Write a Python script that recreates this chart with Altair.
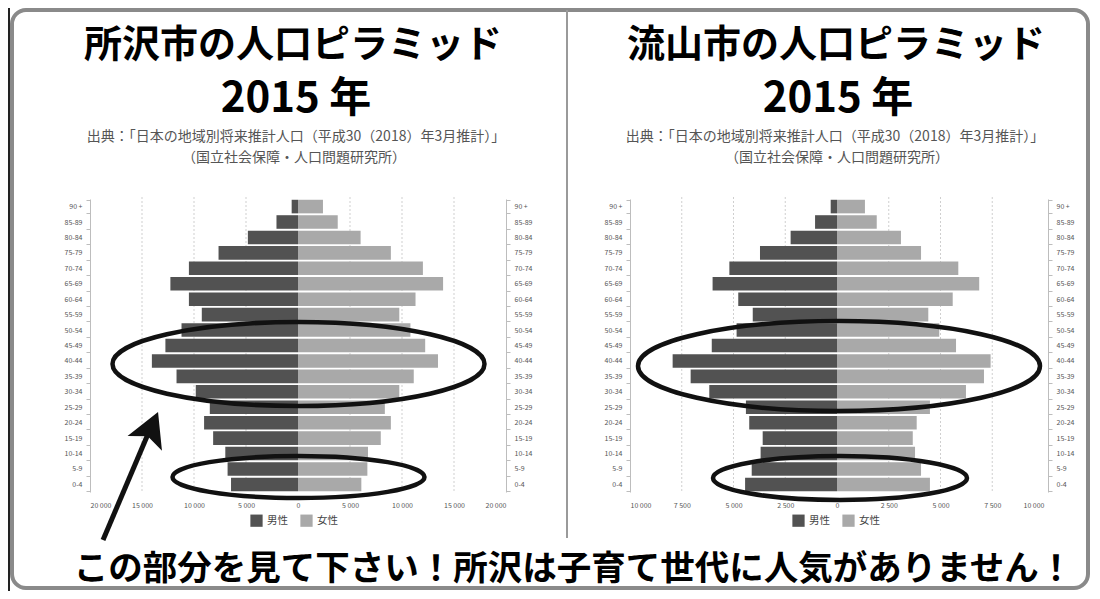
import altair as alt
import pandas as pd

# ---------------- data ----------------
ages = ["0-4", "5-9", "10-14", "15-19", "20-24", "25-29", "30-34", "35-39", "40-44",
        "45-49", "50-54", "55-59", "60-64", "65-69", "70-74", "75-79", "80-84", "85-89", "90 +"]

tokorozawa_male = [6440, 6770, 6990, 8160, 9030, 8480, 9830, 11680, 14050, 12750,
                   11200, 9250, 10490, 12270, 10490, 7640, 4820, 2070, 610]
tokorozawa_female = [6090, 6670, 6730, 7960, 8930, 8350, 9740, 11130, 13460, 12230,
                     10810, 9740, 11300, 13950, 12010, 8930, 6020, 3820, 2400]
nagareyama_male = [4440, 4120, 3690, 3590, 4240, 4400, 6170, 7070, 7940, 6050,
                   4850, 4070, 4770, 6010, 5200, 3720, 2240, 1060, 305]
nagareyama_female = [4490, 4060, 3770, 3660, 3850, 4490, 6230, 7100, 7420, 5750,
                     4940, 4410, 5590, 6870, 5860, 4060, 3090, 1920, 1350]

sexes = ["男性", "女性"]
sex_colors = ["#525252", "#a9a9a9"]

left_ticks = [-20000, -15000, -10000, -5000, 0, 5000, 10000, 15000, 20000]
left_grid = [-15000, -10000, -5000, 5000, 10000, 15000]
right_ticks = [-10000, -7500, -5000, -2500, 0, 2500, 5000, 7500, 10000]
right_grid = [-7500, -5000, -2500, 2500, 5000, 7500]

title_left = "所沢市の人口ピラミッド"
title_right = "流山市の人口ピラミッド"
year_text = "2015 年"
source1 = "出典：「日本の地域別将来推計人口（平成30（2018）年3月推計）」"
source2 = "（国立社会保障・人口問題研究所）"
bottom_text = "この部分を見て下さい！所沢は子育て世代に人気がありません！"

# ---------------- layout ----------------
FONT = "Noto Sans CJK JP"
W, H = 1084, 583


def make_df(male, female):
    rows = []
    for a, m, f in zip(ages, male, female):
        rows.append({"age": a, "sex": sexes[0], "pop": m, "v": -m})
        rows.append({"age": a, "sex": sexes[1], "pop": f, "v": f})
    return pd.DataFrame(rows)


y_scale = alt.Scale(domain=ages[::-1], range=[191, 484], paddingInner=0.12, paddingOuter=0.05)
color_scale = alt.Scale(domain=sexes, range=sex_colors)


def y_axis(orient, off):
    return alt.Axis(orient=orient, offset=off, title=None, labelFontSize=7, labelColor="#555",
                    labelFont=FONT, domainColor="#bdbdbd", tickColor="#bdbdbd", tickSize=4,
                    tickBand="extent", labelPadding=4, grid=False)


def pyramid(df, domain, xrange, ticks, grid, yl_off, yr_off, legend_x):
    xs = alt.Scale(domain=domain, range=xrange, nice=False)
    xaxis = alt.Axis(orient="bottom", offset=-92, values=ticks,
                     labelExpr="replace(format(abs(datum.value), ','), ',', ' ')",
                     domain=False, ticks=False, grid=False, labelFontSize=7,
                     labelColor="#555", labelFont=FONT, title=None, labelPadding=2)
    legend = alt.Legend(orient="none", legendX=legend_x, legendY=506, direction="horizontal",
                        title=None, symbolType="square", symbolSize=150, symbolStrokeWidth=0,
                        labelFontSize=10.5, labelFont=FONT, labelColor="#444", columnPadding=12)
    grid_layer = alt.Chart(pd.DataFrame({"g": grid})).mark_rule(
        color="#cfcfcf", strokeDash=[2, 2], strokeWidth=1
    ).encode(x=alt.X("g:Q", scale=xs, axis=xaxis), y=alt.value(189), y2=alt.value(484))
    male = alt.Chart(df).transform_filter(alt.datum.sex == sexes[0]).mark_bar().encode(
        x=alt.X("v:Q", scale=xs, axis=xaxis),
        y=alt.Y("age:N", scale=y_scale, axis=y_axis("left", yl_off)),
        color=alt.Color("sex:N", scale=color_scale, legend=legend),
    )
    female = alt.Chart(df).transform_filter(alt.datum.sex == sexes[1]).mark_bar().encode(
        x=alt.X("v:Q", scale=xs, axis=xaxis),
        y=alt.Y("age:N", scale=y_scale, axis=y_axis("right", yr_off)),
        color=alt.Color("sex:N", scale=color_scale, legend=legend),
    )
    return alt.layer(grid_layer, male, female).resolve_axis(y="independent")


left = pyramid(make_df(tokorozawa_male, tokorozawa_female), [-20000, 20000], [82, 498],
               left_ticks, left_grid, -82, 498 - W, 242)
right = pyramid(make_df(nagareyama_male, nagareyama_female), [-10000, 10000], [622, 1036],
                right_ticks, right_grid, -622, 1040 - W, 784)

one = pd.DataFrame({"k": [0]})


def text(t, x, y, size, weight="normal", color="#000"):
    return alt.Chart(one).mark_text(text=t, font=FONT, fontSize=size, fontWeight=weight,
                                    color=color, align="center", baseline="middle").encode(
        x=alt.value(x), y=alt.value(y))


def ellipse_path(r):
    k = 0.5523
    return (f"M -1 0 C -1 {-k*r:.4f} {-k:.4f} {-r:.4f} 0 {-r:.4f} "
            f"C {k:.4f} {-r:.4f} 1 {-k*r:.4f} 1 0 "
            f"C 1 {k*r:.4f} {k:.4f} {r:.4f} 0 {r:.4f} "
            f"C {-k:.4f} {r:.4f} -1 {k*r:.4f} -1 0 Z")


def ellipse(cx, cy, hw, hh):
    return alt.Chart(one).mark_point(shape=ellipse_path(hh / hw), size=(2 * hw) ** 2,
                                     filled=False, stroke="#111", strokeWidth=4.5,
                                     opacity=1).encode(x=alt.value(cx), y=alt.value(cy))


border = alt.Chart(one).mark_rect(filled=False, stroke="#8a8a8a", strokeWidth=4,
                                  cornerRadius=14).encode(
    x=alt.value(4), x2=alt.value(1080), y=alt.value(2), y2=alt.value(580))
edge = alt.Chart(one).mark_rule(color="#222", strokeWidth=2).encode(
    x=alt.value(1), y=alt.value(0), y2=alt.value(H))
divider = alt.Chart(one).mark_rule(color="#9a9a9a", strokeWidth=2).encode(
    x=alt.value(559), y=alt.value(2), y2=alt.value(530))

shaft = alt.Chart(one).mark_rule(color="#111", strokeWidth=5).encode(
    x=alt.value(95), y=alt.value(532), x2=alt.value(140), y2=alt.value(426))
head = alt.Chart(one).mark_point(shape="M 0 -1 L 1.1 1 L 0 0.55 L -1.1 1 Z", size=34 ** 2,
                                 filled=True, fill="#111", strokeWidth=0, opacity=1,
                                 angle=23).encode(x=alt.value(143.4), y=alt.value(419.7))

annotations = [
    text(title_left, 285, 38, 38, "bold"),
    text(year_text, 288, 91, 42, "bold"),
    text(source1, 288, 129, 14, "normal", "#555"),
    text(source2, 286, 150, 14, "normal", "#555"),
    text(title_right, 828, 38, 38, "bold"),
    text(year_text, 830, 91, 42, "bold"),
    text(source1, 827, 129, 14, "normal", "#555"),
    text(source2, 829, 150, 14, "normal", "#555"),
    ellipse(290.5, 356, 186, 42),
    ellipse(290.5, 469, 126, 21),
    ellipse(831, 358, 201, 45),
    ellipse(832, 470, 127, 22),
    shaft,
    head,
    text(bottom_text, 565.5, 562, 34.5, "bold"),
]

chart = alt.layer(border, edge, divider, left, right, *annotations).resolve_scale(
    x="independent"
).resolve_axis(x="independent", y="independent").resolve_legend(
    color="independent"
).properties(
    width=W, height=H, padding=0, autosize=alt.AutoSizeParams(type="none"),
    background="white"
).configure_view(stroke="transparent")

chart.save("out.html", embed_options={"renderer": "svg", "actions": False})
